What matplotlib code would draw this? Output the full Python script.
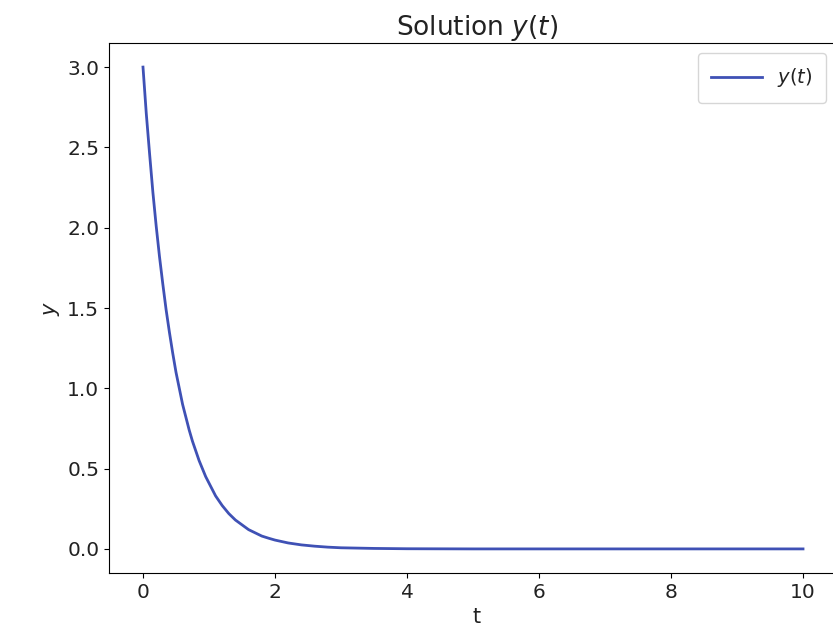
import matplotlib
matplotlib.use("Agg")
import matplotlib.pyplot as plt

# values
t = [0.0, 0.05, 0.1, 0.15, 0.2, 0.25, 0.3, 0.35, 0.4, 0.45, 0.5,
     0.55, 0.6, 0.65, 0.7, 0.75, 0.8, 0.85, 0.9, 0.95, 1.0,
     1.1, 1.2, 1.3, 1.4, 1.5, 1.6, 1.7, 1.8, 1.9, 2.0,
     2.2, 2.4, 2.6, 2.8, 3.0, 3.5, 4.0, 5.0, 6.0, 7.0, 8.0, 9.0, 10.0]
y = [3.00, 2.71, 2.46, 2.22, 2.01, 1.82, 1.65, 1.49, 1.35, 1.22, 1.10,
     1.00, 0.90, 0.82, 0.74, 0.67, 0.61, 0.55, 0.50, 0.45, 0.41,
     0.33, 0.27, 0.22, 0.18, 0.15, 0.12, 0.10, 0.08, 0.067, 0.055,
     0.037, 0.025, 0.017, 0.011, 0.007, 0.003, 0.001, 0.0, 0.0, 0.0, 0.0, 0.0, 0.0]

plt.rcParams["text.color"] = "#222222"
plt.rcParams["xtick.labelcolor"] = "#222222"
plt.rcParams["ytick.labelcolor"] = "#222222"
plt.rcParams["axes.labelcolor"] = "#222222"

fig = plt.figure(figsize=(8.33, 6.32), dpi=100)
# right edge of the axes runs past the picture, as in the cropped original
ax = fig.add_axes([109 / 833, 59 / 632, 736 / 833, 530 / 632])

ax.plot(t, y, color="#3f51b5", linewidth=2, label="$y(t)$")
ax.set_xlim(-0.515, 10.636)

ax.set_title("Solution $y(t)$", fontsize=19, pad=-1)
ax.set_xlabel("t", fontsize=15)
ax.set_ylabel("$y$", fontsize=15)
ax.tick_params(labelsize=14.5)
ax.legend(loc="upper right", fontsize=14, borderpad=0.7,
          handlelength=2.6, bbox_to_anchor=(727 / 736, 1.0))

fig.savefig("out.png", dpi=100)
